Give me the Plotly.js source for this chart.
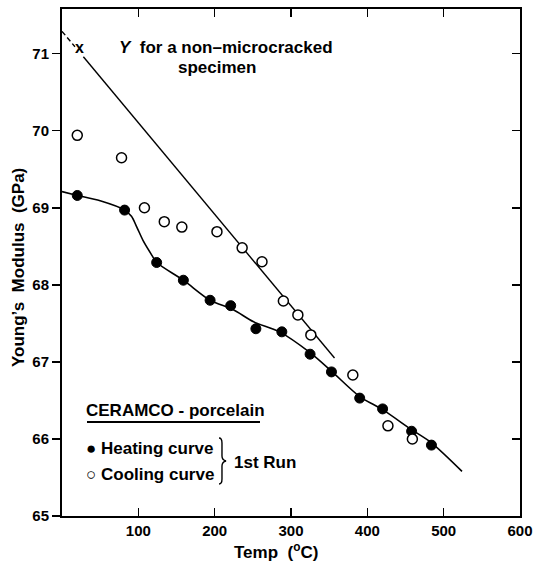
<!DOCTYPE html>
<html><head><meta charset="utf-8">
<script src="https://cdn.plot.ly/plotly-3.0.1.min.js"></script>
<style>html,body{margin:0;padding:0;background:#fff}</style>
</head><body><div id="chart" style="width:543px;height:566px"></div>
<script>
// Heating curve (filled circles)
const heatT = [20, 82, 124, 159, 194, 221, 254, 288, 325, 353, 390, 420, 458, 484];
const heatE = [69.16, 68.97, 68.29, 68.06, 67.80, 67.73, 67.43, 67.39, 67.10, 66.87, 66.53, 66.39, 66.10, 65.92];
// Cooling curve (open circles)
const coolT = [20, 78, 108, 134, 157, 203, 236, 262, 290, 309, 326, 381, 427, 459];
const coolE = [69.94, 69.65, 69.00, 68.82, 68.75, 68.69, 68.48, 68.30, 67.79, 67.61, 67.35, 66.83, 66.17, 66.00];
// Smooth curve drawn through heating data
const heatFitT = [0, 20, 50, 82, 91, 98, 107, 118, 124, 159, 194, 224, 251, 285, 325, 353, 390, 420, 458, 484, 524];
const heatFitE = [69.21, 69.16, 69.09, 68.97, 68.89, 68.75, 68.56, 68.38, 68.29, 68.06, 67.80, 67.68, 67.52, 67.39, 67.12, 66.88, 66.55, 66.38, 66.12, 65.95, 65.58];
// Non-microcracked specimen line
const ncDashT = [0, 17];
const ncDashE = [71.29, 71.09];
const ncSolidT = [28, 357];
const ncSolidE = [70.96, 67.05];
const ncPointT = [23];
const ncPointE = [71.06];
// Axis ticks
const xTicks = [100, 200, 300, 400, 500, 600];
const yTicks = [65, 66, 67, 68, 69, 70, 71];

const FONT = 'Liberation Sans, Arial, Helvetica, sans-serif';
const W = 543, H = 566, ML = 62, MR = 23, MT = 9, MB = 50;
const XR = [0, 600], YR = [65, 71.58];
// pixel -> paper helpers for decorations
const px = p => (p - ML) / (W - ML - MR);
const py = p => (H - MB - p) / (H - MT - MB);
const f = (s) => ({family: FONT, size: s, color: '#000', weight: 'bold'});

const traces = [
  {x: heatFitT, y: heatFitE, mode: 'lines', line: {color: '#000', width: 1.6, shape: 'spline', smoothing: 0.8}, showlegend: false},
  {x: ncDashT, y: ncDashE, mode: 'lines', line: {color: '#000', width: 1.4, dash: '5px,3px'}, showlegend: false},
  {x: ncSolidT, y: ncSolidE, mode: 'lines', line: {color: '#000', width: 1.4}, showlegend: false},
  {x: ncPointT, y: ncPointE, mode: 'text', text: ['x'], textposition: 'middle center', textfont: f(16), showlegend: false},
  {x: heatT, y: heatE, mode: 'markers', marker: {symbol: 'circle', size: 10, color: '#000', line: {color: '#000', width: 1}}, showlegend: false},
  {x: coolT, y: coolE, mode: 'markers', marker: {symbol: 'circle', size: 10, color: '#fff', line: {color: '#000', width: 1.5}}, showlegend: false},
  {x: [], y: [], yaxis: 'y2', mode: 'markers', showlegend: false}
];

// curly brace path (pixel coords -> paper)
const braceP = [[219,438],[222,438],[222,443],[222,456],[222,460],[226,461],[222,462],[222,466],[222,479],[222,484],[219,484]]
  .map(([a,b]) => [px(a).toFixed(4), py(b).toFixed(4)]);
const bracePath = `M ${braceP[0]} Q ${braceP[1]} ${braceP[2]} L ${braceP[3]} Q ${braceP[4]} ${braceP[5]} Q ${braceP[6]} ${braceP[7]} L ${braceP[8]} Q ${braceP[9]} ${braceP[10]}`.replace(/,/g, ' ');

const ann = (x, y, text, xa) => ({x: px(x), y: py(y), xref: 'paper', yref: 'paper', xanchor: xa, yanchor: 'middle', showarrow: false, text: text, font: f(17)});

const layout = {
  width: W, height: H,
  margin: {l: ML, r: MR, t: MT, b: MB},
  paper_bgcolor: '#fff', plot_bgcolor: '#fff',
  font: f(15),
  showlegend: false,
  xaxis: {
    range: XR, tickvals: xTicks, ticktext: xTicks.map(String),
    ticks: 'inside', ticklen: 8, tickwidth: 1.5, tickcolor: '#000',
    showline: true, linewidth: 2, linecolor: '#000', mirror: 'ticks',
    showgrid: false, zeroline: false, tickfont: f(15)
  },
  yaxis: {
    range: YR, tickvals: yTicks, ticktext: yTicks.map(String),
    ticks: 'outside', ticklen: 8, tickwidth: 1.5, tickcolor: '#000',
    showline: true, linewidth: 2, linecolor: '#000', mirror: false,
    showgrid: false, zeroline: false, tickfont: f(15)
  },
  yaxis2: {
    overlaying: 'y', side: 'right', range: YR, tickvals: yTicks,
    ticks: 'inside', ticklen: 8, tickwidth: 1.5, tickcolor: '#000',
    showticklabels: false, showline: true, linewidth: 2, linecolor: '#000',
    showgrid: false, zeroline: false
  },
  annotations: [
    ann(276, 551, 'Temp  (<sup>o</sup>C)', 'center'),
    Object.assign(ann(18, 268, 'Young\u2019s  Modulus  (GPa)', 'center'), {textangle: -90}),
    ann(117, 48, '<i>Y</i>  for a non\u2013microcracked', 'left'),
    ann(217, 67, 'specimen', 'center'),
    ann(84, 410, 'CERAMCO - porcelain', 'left'),
    ann(84, 448, '\u25CF Heating curve', 'left'),
    ann(84, 474, '\u25CB Cooling curve', 'left'),
    ann(232, 462, '1st Run', 'left')
  ],
  shapes: [
    {type: 'line', xref: 'paper', yref: 'paper', x0: px(87), x1: px(260), y0: py(422), y1: py(422), line: {color: '#000', width: 2}},
    {type: 'path', xref: 'paper', yref: 'paper', path: bracePath, line: {color: '#000', width: 1.4}}
  ]
};

Plotly.newPlot('chart', traces, layout, {displayModeBar: false, staticPlot: true});
</script></body></html>
